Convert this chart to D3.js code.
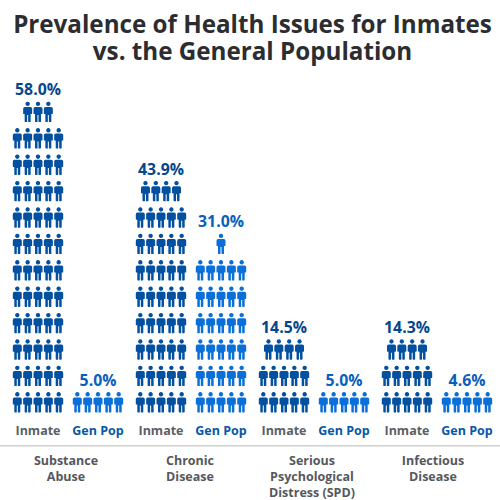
<!DOCTYPE html>
<html><head><meta charset="utf-8">
<script src="https://cdn.jsdelivr.net/npm/d3@7/dist/d3.min.js"></script>
<style>html,body{margin:0;padding:0;background:#fff}svg{display:block}text{font-family:"Open Sans",sans-serif;font-weight:700}</style>
</head><body><svg id="c" width="500" height="500"></svg>
<script>
const titleLines = ["Prevalence of Health Issues for Inmates", "vs. the General Population"];
const categories = ["Substance Abuse", "Chronic Disease", "Serious Psychological Distress (SPD)", "Infectious Disease"];
const categoryLines = [["Substance","Abuse"],["Chronic","Disease"],["Serious","Psychological","Distress (SPD)"],["Infectious","Disease"]];
const groups = ["Inmate", "Gen Pop"];
const inmateValues = [58.0, 43.9, 14.5, 14.3];
const genPopValues = [5.0, 31.0, 5.0, 4.6];
const inmateIcons = [58, 44, 14, 14];
const genPopIcons = [5, 31, 5, 5];
const categoryNudge = [-2, -1, -2, -4];
const iconsPerRow = 5, unitsPerRow = 5;
const colors = {"Inmate":"#02509f","Gen Pop":"#0a6fd8"};
const labelColors = {"Inmate":"#03478c","Gen Pop":"#0760bd"};
const groupTextColors = {"Inmate":"#5a5f66","Gen Pop":"#0757a8"};

const svg = d3.select("#c");
const x0 = d3.scalePoint().domain(categories).range([68, 437]);
const x1 = d3.scalePoint().domain(groups).range([-30, 30]);
const y = d3.scaleLinear().domain([0, 60]).range([418.5, 101.7]);
const slot = d3.scalePoint().domain(d3.range(iconsPerRow)).range([-20.7, 20.7]);

// person glyph in a 9 x 20 box, origin at bottom-centre
const person = "M0,-20.4a2.2,2.2 0 1,1 -0.01,0Z" +
  "M-2.8,-15.1H2.8Q4.5,-15.1 4.5,-13.4V-8.6Q4.5,-8 3.9,-8H3V-0.7Q3,0 2.3,0H1Q0.5,0 0.5,-0.6V-7H-0.5V-0.6Q-0.5,0 -1,0H-2.3Q-3,0 -3,-0.7V-8H-3.9Q-4.5,-8 -4.5,-8.6V-13.4Q-4.5,-15.1 -2.8,-15.1Z";

svg.append("g").selectAll("text").data(titleLines).join("text")
  .attr("x", 252.5).attr("y", (d,i)=>33+i*27).attr("text-anchor","middle")
  .attr("font-size", 24.2).attr("fill","#2b2d31").text(d=>d);

const rows = categories.flatMap((c,i)=>[
  {c,g:"Inmate",v:inmateValues[i],n:inmateIcons[i]},
  {c,g:"Gen Pop",v:genPopValues[i],n:genPopIcons[i]}]);

const col = svg.append("g").selectAll("g").data(rows).join("g")
  .attr("transform", d=>`translate(${x0(d.c)+x1(d.g)},0)`);

col.each(function(d){
  const g = d3.select(this);
  const icons = d3.range(d.n).map(k=>({row:Math.floor(k/iconsPerRow), idx:k%iconsPerRow}));
  const rowCount = Math.ceil(d.n/iconsPerRow);
  const top = rowCount-1;
  const topN = d.n-top*iconsPerRow;
  g.selectAll("path").data(icons).join("path")
    .attr("d", person).attr("fill", colors[d.g])
    .attr("transform", k=>{
      const n = k.row===top ? topN : iconsPerRow;
      const off = (k.idx-(n-1)/2)*(slot(1)-slot(0));
      return `translate(${off},${y((k.row+1)*unitsPerRow)+26.4-6})`;
    });
  g.append("text").attr("text-anchor","middle")
    .attr("y", y(rowCount*unitsPerRow)-6.3).attr("font-size",15.8)
    .attr("fill", labelColors[d.g]).text(d.v.toFixed(1)+"%");
  g.append("text").attr("text-anchor","middle").attr("y",435.3)
    .attr("font-size",12.5).attr("fill",groupTextColors[d.g]).text(d.g);
});

svg.append("line").attr("x1",0).attr("x2",500).attr("y1",445.8).attr("y2",445.8)
  .attr("stroke","#cfcfcf").attr("stroke-width",1.5);

const cg = svg.append("g").selectAll("text").data(categories).join("text")
  .attr("text-anchor","middle").attr("font-size",12.5).attr("fill","#55585d");
cg.each(function(c,i){
  d3.select(this).selectAll("tspan").data(categoryLines[i]).join("tspan")
    .attr("x", x0(c)+categoryNudge[i]).attr("y",(d,j)=>465+j*15.8).text(d=>d);
});
</script></body></html>
